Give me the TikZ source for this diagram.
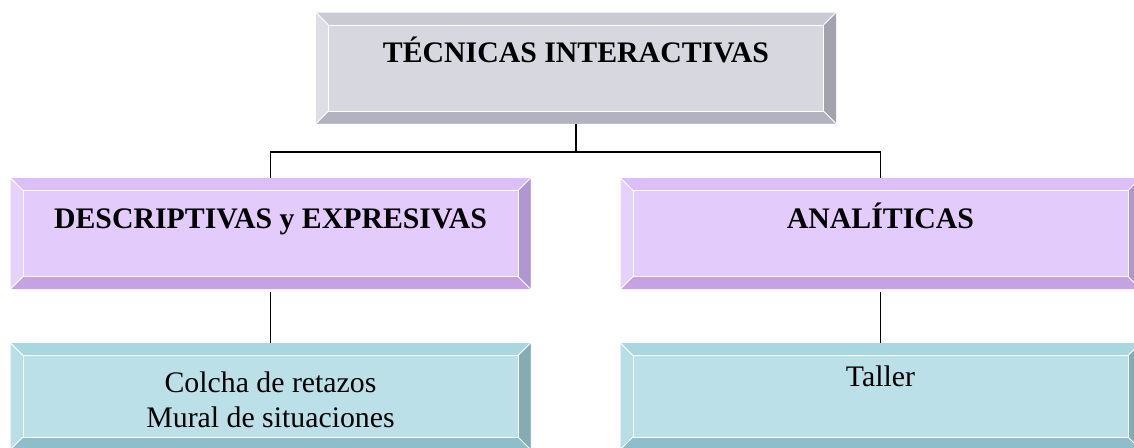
\documentclass[tikz,border=0pt]{standalone}
\usepackage{fontspec}
\setmainfont{Liberation Serif}
\definecolor{gface}{HTML}{D7D7E0}\definecolor{gtop}{HTML}{CACAD5}\definecolor{gleft}{HTML}{DEDEE7}\definecolor{gright}{HTML}{A3A3AF}\definecolor{gbot}{HTML}{B3B3BF}
\definecolor{pface}{HTML}{E3CBFC}\definecolor{ptop}{HTML}{DCBEF9}\definecolor{pleft}{HTML}{E6D1FC}\definecolor{pright}{HTML}{B097D2}\definecolor{pbot}{HTML}{C5A3E3}
\definecolor{cface}{HTML}{BBE0E8}\definecolor{ctop}{HTML}{A8D7E0}\definecolor{cleft}{HTML}{B8DEE6}\definecolor{cright}{HTML}{86ACB3}\definecolor{cbot}{HTML}{8FBDCA}
\newcommand\bevbox[5]{% name, x, y, palette, height
  \node[minimum width=520pt, minimum height=#5, inner sep=0pt, outer sep=0pt, fill=#4face] (#1) at (#2,#3) {};
  \fill[#4top] (#1.north west) -- (#1.north east) -- ([xshift=-12.5pt,yshift=-12.5pt]#1.north east) -- ([xshift=12.5pt,yshift=-12.5pt]#1.north west) -- cycle;
  \fill[#4right] (#1.north east) -- (#1.south east) -- ([xshift=-12.5pt,yshift=12.5pt]#1.south east) -- ([xshift=-12.5pt,yshift=-12.5pt]#1.north east) -- cycle;
  \fill[#4bot] (#1.south east) -- (#1.south west) -- ([xshift=12.5pt,yshift=12.5pt]#1.south west) -- ([xshift=-12.5pt,yshift=12.5pt]#1.south east) -- cycle;
  \fill[#4left] (#1.south west) -- (#1.north west) -- ([xshift=12.5pt,yshift=-12.5pt]#1.north west) -- ([xshift=12.5pt,yshift=12.5pt]#1.south west) -- cycle;
  \draw[white, line width=0.8pt] ([xshift=12.5pt,yshift=-12.5pt]#1.north west) rectangle ([xshift=-12.5pt,yshift=12.5pt]#1.south east);
  \draw[white, line width=0.8pt] (#1.north west) -- ([xshift=12.5pt,yshift=-12.5pt]#1.north west)
    (#1.north east) -- ([xshift=-12.5pt,yshift=-12.5pt]#1.north east)
    (#1.south east) -- ([xshift=-12.5pt,yshift=12.5pt]#1.south east)
    (#1.south west) -- ([xshift=12.5pt,yshift=12.5pt]#1.south west);
}
\tikzset{
  lbl/.style={font=\fontsize{29.8pt}{35pt}\selectfont, inner sep=0pt, anchor=base},
  blbl/.style={lbl, font=\fontsize{29.8pt}{35pt}\selectfont\bfseries},
  conn/.style={line width=1.8pt, black}
}
\begin{document}
\begin{tikzpicture}[x=1pt,y=-1pt]
\useasboundingbox (0,0) rectangle (1134,447);
\clip (0,0) rectangle (1134,447);
\bevbox{top}{576}{68}{g}{111pt}
\bevbox{ml}{270.5}{233.5}{p}{111pt}
\bevbox{mr}{880.5}{233.5}{p}{111pt}
\bevbox{bl}{270.5}{396.25}{c}{106.5pt}
\bevbox{br}{880.5}{396.25}{c}{106.5pt}
\node[blbl] (ttop) at (576,62) {TÉCNICAS INTERACTIVAS};
\node[blbl] (tml) at (270.5,228) {DESCRIPTIVAS y EXPRESIVAS};
\node[blbl] (tmr) at (880.5,228) {ANALÍTICAS};
\node[lbl, anchor=center, align=center] (tbl) at (270.5,399.5) {Colcha de retazos\\Mural de situaciones};
\node[lbl] (tbr) at (880.5,386) {Taller};
\coordinate (j) at (576,152);
\draw[conn] (top.south) -- (j);
\draw[conn] (ml.north) |- (j) -| (mr.north);
\draw[conn] ([yshift=-3pt]ml.south) -- (bl.north);
\draw[conn] ([yshift=-3pt]mr.south) -- (br.north);
\end{tikzpicture}
\end{document}
